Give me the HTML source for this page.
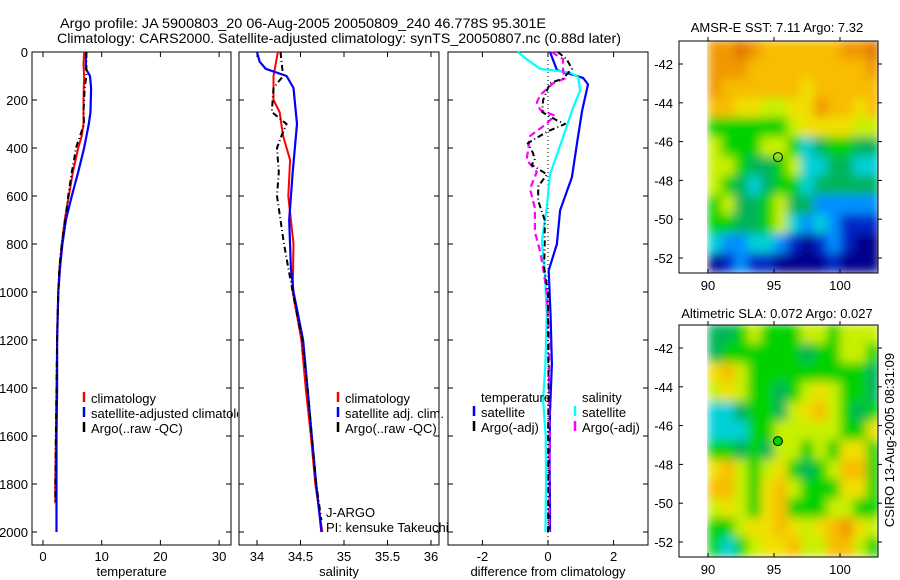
<!DOCTYPE html>
<html><head><meta charset="utf-8"><title>Argo profile</title>
<style>
html,body{margin:0;padding:0;background:#fff;}
svg{display:block;font-family:"Liberation Sans",sans-serif;}
text{fill:#000;}
</style></head>
<body>
<svg id="fig" width="900" height="580" viewBox="0 0 900 580" xmlns="http://www.w3.org/2000/svg">
<defs>
<filter id="smooth" x="-5%" y="-5%" width="110%" height="110%">
<feGaussianBlur stdDeviation="5" edgeMode="duplicate"/>
</filter>
<clipPath id="legclip"><rect x="0" y="0" width="238" height="580"/></clipPath>
</defs>
<rect x="0" y="0" width="900" height="580" fill="#fff"/>
<text x="60" y="28" font-size="14" textLength="486" lengthAdjust="spacingAndGlyphs">Argo profile: JA 5900803_20 06-Aug-2005 20050809_240 46.778S 95.301E</text>
<text x="57" y="43" font-size="14" textLength="564" lengthAdjust="spacingAndGlyphs">Climatology: CARS2000. Satellite-adjusted climatology: synTS_20050807.nc (0.88d later)</text>
<g id="layer"></g>
</svg>
<script>
// ---------------- data ----------------
const depthTicks = [0,200,400,600,800,1000,1200,1400,1600,1800,2000];
const tempTicks = [0,10,20,30];
const salTicks = [34,34.5,35,35.5,36];
const diffTicks = [-2,0,2];

const tClimDepth = [0,50,100,200,300,350,400,500,600,700,800,900,1000,1200,1400,1600,1800,1880];
const tClimVal   = [7.0,6.9,7.0,6.9,6.9,6.6,6.0,5.1,4.4,3.7,3.2,2.8,2.6,2.4,2.3,2.2,2.1,2.1];
const tSatDepth  = [0,70,100,150,250,300,400,500,600,700,800,900,1000,1200,1400,1600,1800,2000];
const tSatVal    = [7.3,7.3,8.0,8.2,8.1,7.8,7.0,6.0,4.9,3.9,3.3,2.9,2.6,2.4,2.4,2.3,2.3,2.3];
const tArgoDepth = [0,100,150,250,300,350,400,450,500,600,700,800,900,1000,1200,1400,1600,1800,1880];
const tArgoVal   = [7.4,7.4,7.1,6.9,7.0,6.3,5.6,5.3,4.9,4.3,3.8,3.2,2.8,2.6,2.4,2.3,2.2,2.1,2.1];

const sClimDepth = [0,100,200,250,350,450,600,800,1000,1200,1400,1600,1800,2000];
const sClimVal   = [34.24,34.19,34.19,34.26,34.30,34.38,34.36,34.42,34.41,34.51,34.56,34.62,34.67,34.75];
const sSatDepth  = [0,40,70,100,150,300,500,700,900,1000,1200,1400,1600,1800,2000];
const sSatVal    = [34.0,34.03,34.1,34.34,34.42,34.46,34.41,34.37,34.39,34.42,34.53,34.58,34.63,34.68,34.74];
const sArgoDepth = [0,100,150,250,300,350,400,500,600,700,800,900,1000,1200,1400,1600,1800,1950];
const sArgoVal   = [34.27,34.30,34.19,34.17,34.34,34.28,34.23,34.25,34.23,34.27,34.31,34.36,34.41,34.52,34.58,34.63,34.68,34.74];

const dTSatDepth = [0,75,108,135,245,383,522,660,800,910,1100,1300,1500,1700,1900,2000];
const dTSatVal   = [0.06,0.27,1.07,1.22,1.04,0.88,0.73,0.37,0.27,0.02,0.08,0.12,0.06,0.05,0.06,0.06];
const dSSatDepth = [0,30,70,85,105,160,230,370,510,650,790,925,1100,1300,1450,1600,1800,2000];
const dSSatVal   = [-0.92,-0.65,-0.24,0.67,0.92,0.98,0.77,0.42,0.06,-0.04,-0.19,-0.09,-0.04,-0.08,-0.15,-0.07,-0.06,-0.08];
const dTArgoDepth = [0,30,70,110,130,200,250,285,300,330,380,420,450,470,510,560,620,700,800,900,1000,1200,1400,1600,1800,2000];
const dTArgoVal   = [0.3,0.57,0.73,0.46,0.06,-0.15,-0.18,0.27,0.52,0.0,-0.62,-0.46,-0.4,-0.5,-0.03,-0.3,-0.3,-0.1,-0.1,-0.12,0.0,0.0,0.02,0.0,0.01,0.0];
const dSArgoDepth = [0,30,80,110,130,180,210,240,265,300,350,400,450,500,570,650,750,830,900,1000,1200,1400,1600,1800,2000];
const dSArgoVal   = [0.11,0.46,0.46,0.52,0.16,-0.24,-0.34,-0.24,0.2,-0.05,-0.55,-0.6,-0.65,-0.34,-0.55,-0.4,-0.4,-0.24,-0.15,-0.04,0.04,0.03,0.05,0.04,0.04];

// maps: rows from lat -40.75 downward (1 deg), cols from lon 90 eastward (1 deg)
const mapLats = [-40.75,-41.75,-42.75,-43.75,-44.75,-45.75,-46.75,-47.75,-48.75,-49.75,-50.75,-51.75];
const mapLons = [90,91,92,93,94,95,96,97,98,99,100,101,102];
const mapLatTicks = [-42,-44,-46,-48,-50,-52];
const mapLonTicks = [90,95,100];
const sstGrid = [
 [9,9,10,9,8,8,8,8,8,8,9,9,10],
 [9,9,9,8,8,8,8,8,8,8,8,8,9],
 [9,8,8,8,8,8,8,7,8,8,8,8,8],
 [8,8,7,7,6,6,7,7,9,8,8,7,8],
 [5,5,5,5,5,5,6,7,7,7,7,6,6],
 [6,5,5,5,6,6,5,3,4,5,5,4,4],
 [6,6,5,4,4,5,6,3,3,4,4,3,3],
 [6,5,4,3,4,5,5,3,4,4,4,4,4],
 [5,6,4,4,5,6,4,4,2,2,2,2,2],
 [5,5,4,4,5,6,3,2,3,2,1,1,1],
 [3,2,2,3,3,2,1,0,1,2,1,0,0],
 [0,1,2,1,1,0,0,0,0,1,0,0,0]
];
const slaGrid = [
 [4,4,5,6,5,5,5,6,6,5,6,6,6],
 [4,5,5,5,5,5,5,4,5,5,6,6,5],
 [7,8,6,5,5,5,5,5,5,5,5,5,4],
 [6,7,6,5,5,4,5,6,7,6,5,5,4],
 [3,3,4,5,5,4,6,7,8,6,5,4,5],
 [3,3,3,5,5,6,6,6,6,6,5,5,7],
 [5,5,4,5,4,6,6,5,6,5,7,7,5],
 [7,8,6,5,6,7,5,4,5,6,8,8,5],
 [8,8,6,5,7,8,6,5,5,5,7,7,5],
 [6,7,6,5,7,8,5,5,5,6,6,5,5],
 [5,5,6,7,7,8,7,6,7,8,9,7,6],
 [5,3,5,6,7,7,8,6,6,8,8,6,5]
];
const floatLon = 95.3, floatLat = -46.8;

// ---------------- drawing ----------------
const NS = "http://www.w3.org/2000/svg";
const layer = document.getElementById('layer');
function mk(tag, attrs, parent){
  const e = document.createElementNS(NS, tag);
  for (const k in attrs) e.setAttribute(k, attrs[k]);
  (parent||layer).appendChild(e);
  return e;
}
const TOP = 52, BOT = 545;
const yDepth = d => TOP + d * (532 - TOP) / 2000;

function panel(name, x0, x1, xs, ticks, fmt, withDepthLabels, xlabel){
  const g = mk('g', {});
  
  
  const fr = mk('rect', {x:x0, y:TOP, width:x1-x0, height:BOT-TOP, fill:'none', stroke:'#000', 'stroke-width':1}, g);
  
  
  depthTicks.forEach(d => {
    const y = yDepth(d);
    mk('line', {x1:x0, x2:x0+5, y1:y, y2:y, stroke:'#000'}, g);
    mk('line', {x1:x1-5, x2:x1, y1:y, y2:y, stroke:'#000'}, g);
    if (withDepthLabels){
      const t = mk('text', {x:x0-4, y:y+5, 'font-size':13, 'text-anchor':'end'}, g);
      
      
      t.textContent = d;
    }
  });
  ticks.forEach(v => {
    const x = xs(v);
    mk('line', {x1:x, x2:x, y1:TOP, y2:TOP+5, stroke:'#000'}, g);
    mk('line', {x1:x, x2:x, y1:BOT-5, y2:BOT, stroke:'#000'}, g);
    const t = mk('text', {x:x, y:561, 'font-size':13, 'text-anchor':'middle'}, g);
    
    
    t.textContent = fmt(v);
  });
  const xl = mk('text', {x:(x0+x1)/2, y:576, 'font-size':13, 'text-anchor':'middle'}, g);
  
  
  xl.textContent = xlabel;
  return g;
}
function profile(name, xs, depths, vals, color, dash, width){
  const pts = depths.map((d,i) => xs(vals[i]).toFixed(1) + ',' + yDepth(d).toFixed(1)).join(' ');
  const p = mk('polyline', {points:pts, fill:'none', stroke:color, 'stroke-width':width||2, 'stroke-dasharray':dash||'none', 'stroke-linejoin':'round'});
  
  
  return p;
}
function legendEntry(name, x, y, color, label, parent){
  const g = mk('g', {}, parent);
  
  
  if (color) mk('line', {x1:x, x2:x, y1:y-11, y2:y-1, stroke:color, 'stroke-width':2.5}, g);
  const t = mk('text', {x:x+7, y:y, 'font-size':13}, g);
  t.textContent = label;
}

// panel 1 temperature
const xT = v => 43 + v * 5.87;
panel('temperature-panel', 32, 231, xT, tempTicks, v=>String(v), true, 'temperature');
profile('temp-climatology-line', xT, tClimDepth, tClimVal, '#f00');
profile('temp-satellite-line', xT, tSatDepth, tSatVal, '#00f', null, 2.2);
profile('temp-argo-line', xT, tArgoDepth, tArgoVal, '#000', '6,3,1,3', 2);
const leg1 = mk('g', {'clip-path':'url(#legclip)'});
legendEntry('legend-climatology', 84, 403, '#f00', 'climatology', leg1);
legendEntry('legend-satellite-adjusted', 84, 418, '#00f', 'satellite-adjusted climatology', leg1);
legendEntry('legend-argo', 84, 433, '#000', 'Argo(..raw -QC)', leg1);

// panel 2 salinity
const xS = v => 257 + (v - 34) * 87;
panel('salinity-panel', 239, 439, xS, salTicks, v=>String(v), false, 'salinity');
profile('sal-climatology-line', xS, sClimDepth, sClimVal, '#f00');
profile('sal-satellite-line', xS, sSatDepth, sSatVal, '#00f', null, 2.2);
profile('sal-argo-line', xS, sArgoDepth, sArgoVal, '#000', '6,3,1,3', 2);
legendEntry('legend-sal-climatology', 338, 403, '#f00', 'climatology');
legendEntry('legend-sal-satellite', 338, 418, '#00f', 'satellite adj. clim.');
legendEntry('legend-sal-argo', 338, 433, '#000', 'Argo(..raw -QC)');
const pi1 = mk('text', {x:326, y:517, 'font-size':13}); pi1.textContent = 'J-ARGO';


const pi2 = mk('text', {x:326, y:532, 'font-size':13}); pi2.textContent = 'PI: kensuke Takeuchi';



// panel 3 differences
const xD = v => 548 + v * 32.8;
panel('difference-panel', 448, 648, xD, diffTicks, v=>String(v), false, 'difference from climatology');
const zl = mk('line', {x1:xD(0), x2:xD(0), y1:TOP, y2:BOT, stroke:'#000', 'stroke-dasharray':'1,3'});


profile('diff-temp-satellite-line', xD, dTSatDepth, dTSatVal, '#00f', null, 2.2);
profile('diff-sal-satellite-line', xD, dSSatDepth, dSSatVal, '#0ff', null, 2.2);
profile('diff-sal-argo-line', xD, dSArgoDepth, dSArgoVal, '#f0f', '7,4', 2.2);
profile('diff-temp-argo-line', xD, dTArgoDepth, dTArgoVal, '#000', '6,3,1,3', 2);
legendEntry('legend-temperature-header', 474, 402, null, 'temperature');
legendEntry('legend-salinity-header', 575, 402, null, 'salinity');
legendEntry('legend-temp-satellite', 474, 417, '#00f', 'satellite');
legendEntry('legend-sal-satellite-diff', 575, 417, '#0ff', 'satellite');
legendEntry('legend-temp-argo', 474, 432, '#000', 'Argo(-adj)');
legendEntry('legend-sal-argo-diff', 575, 432, '#f0f', 'Argo(-adj)');

// maps
const palette = ['#00008c','#0028c8','#0090ff','#00d0d8','#00b45a','#00d200','#c8f000','#f0e000','#f8bc00','#f09800','#e07800'];
function drawMap(name, grid, fy0, latAt42, titleText, titleY, fillCircle){
  const g = mk('g', {});
  
  
  const xL = lon => 708 + (lon - 90) * 13.2;
  const yL = lat => latAt42 + (-42 - lat) * 19.4;
  const clipId = name + '-clip';
  const cp = mk('clipPath', {id:clipId}, g);
  mk('rect', {x:707, y:fy0, width:171, height:232}, cp);
  const clipG = mk('g', {'clip-path':'url(#'+clipId+')'}, g);
  const cells = mk('g', {filter:'url(#smooth)'}, clipG);
  grid.forEach((row, r) => row.forEach((v, c) => {
    const x = xL(mapLons[c]), y = yL(mapLats[r]);
    const cell = mk('rect', {x:x.toFixed(1), y:y.toFixed(1), width:13.7, height:19.9, fill:palette[v]}, cells);
    
    
  }));
  const fr = mk('rect', {x:679, y:fy0, width:199, height:232, fill:'none', stroke:'#000'}, g);
  
  
  mapLatTicks.forEach(lat => {
    const y = yL(lat);
    mk('line', {x1:679, x2:683, y1:y, y2:y, stroke:'#000'}, g);
    mk('line', {x1:878, x2:882, y1:y, y2:y, stroke:'#000'}, g);
    const t = mk('text', {x:673, y:y+5, 'font-size':13, 'text-anchor':'end'}, g);
    
    
    t.textContent = lat;
  });
  mapLonTicks.forEach(lon => {
    const x = xL(lon);
    mk('line', {x1:x, x2:x, y1:fy0+232, y2:fy0+228, stroke:'#000'}, g);
    mk('line', {x1:x, x2:x, y1:fy0, y2:fy0-4, stroke:'#000'}, g);
    const t = mk('text', {x:x, y:fy0+249, 'font-size':13, 'text-anchor':'middle'}, g);
    
    
    t.textContent = lon;
  });
  const c = mk('circle', {cx:xL(floatLon), cy:yL(floatLat), r:4.5, fill:fillCircle||'none', stroke:'#000'}, g);
  
  
  const t = mk('text', {x:777, y:titleY, 'font-size':13, 'text-anchor':'middle'}, g);
  
  
  t.textContent = titleText;
}
drawMap('sst-map', sstGrid, 41, 64, 'AMSR-E SST: 7.11 Argo: 7.32', 32, null);
drawMap('sla-map', slaGrid, 325, 348, 'Altimetric SLA: 0.072 Argo: 0.027', 318, '#00d200');
const stamp = mk('text', {x:0, y:0, 'font-size':13, 'text-anchor':'middle', transform:'translate(894,440) rotate(-90)'});


stamp.textContent = 'CSIRO 13-Aug-2005 08:31:09';
</script>
</body></html>
